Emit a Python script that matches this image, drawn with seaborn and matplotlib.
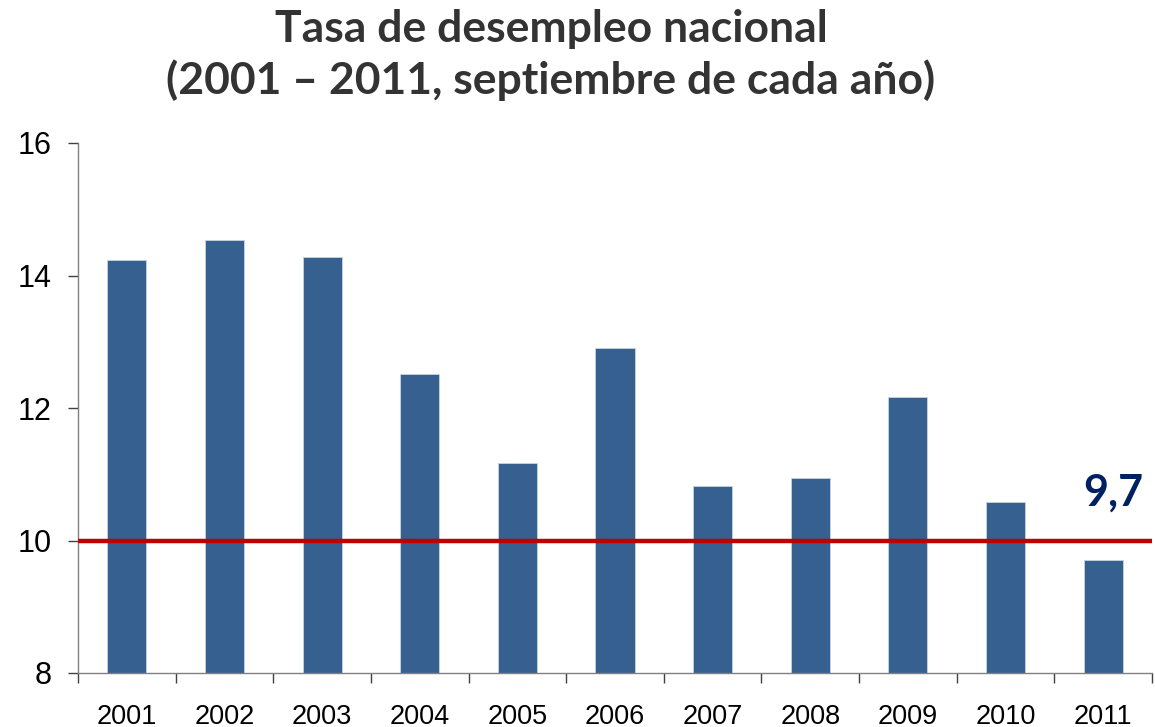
import matplotlib
matplotlib.use("Agg")
import matplotlib.pyplot as plt
import seaborn as sns
import pandas as pd
import numpy as np
from matplotlib.ticker import FixedLocator

years = ["2001", "2002", "2003", "2004", "2005", "2006", "2007", "2008", "2009", "2010", "2011"]
rates = [14.23, 14.54, 14.28, 12.51, 11.17, 12.91, 10.82, 10.94, 12.17, 10.58, 9.71]
y_ticks = [8, 10, 12, 14, 16]
reference_level = 10
last_label = "9,7"
title = "Tasa de desempleo nacional\n(2001 \u2013 2011, septiembre de cada año)"

sns.set_theme(style="white")
plt.rcParams['font.family'] = ['Liberation Sans', 'DejaVu Sans']

df = pd.DataFrame({"year": years, "rate": rates})

fig = plt.figure(figsize=(11.55, 7.27), dpi=100)
ax = fig.add_axes([78/1155, 1-673/727, (1152-78)/1155, (673-143)/727])

sns.barplot(data=df, x="year", y="rate", color="#36608F", saturation=1,
            width=0.4, edgecolor="#C8D3E0", linewidth=0.6, ax=ax)

ax.set_ylim(8, 16)
ax.set_xlim(-0.5, len(years) - 0.5)
ax.set_yticks(y_ticks)
ax.set_yticklabels([str(t) for t in y_ticks])
ax.set_xlabel("")
ax.set_ylabel("")

ax.axhline(reference_level, color="#C00000", linewidth=3.2, zorder=5)

for s in ["top", "right"]:
    ax.spines[s].set_visible(False)
for s in ["left", "bottom"]:
    ax.spines[s].set_color("#808080")
    ax.spines[s].set_linewidth(1.0)

ax.tick_params(axis="y", which="major", left=True, length=7, width=1, color="#404040",
               labelsize=22, pad=12, labelcolor="black")
ax.tick_params(axis="x", which="major", bottom=False, length=0, labelsize=19.5, pad=22,
               labelcolor="black")
ax.xaxis.set_minor_locator(FixedLocator(np.arange(-0.5, len(years), 1.0)))
ax.tick_params(axis="x", which="minor", bottom=True, length=7, width=1, color="#404040")

ax.text(len(years) - 1 + 0.1, 10.72, last_label, ha="center", va="center",
        fontsize=31, fontweight="bold", color="#002060", family=["Lato", "DejaVu Sans"])

fig.text(0.477, 0.988, title, ha="center", va="top", fontsize=32, fontweight="bold",
         color="#333333", family=["Lato", "DejaVu Sans"], linespacing=1.3)

fig.savefig("out.png", dpi=100)
